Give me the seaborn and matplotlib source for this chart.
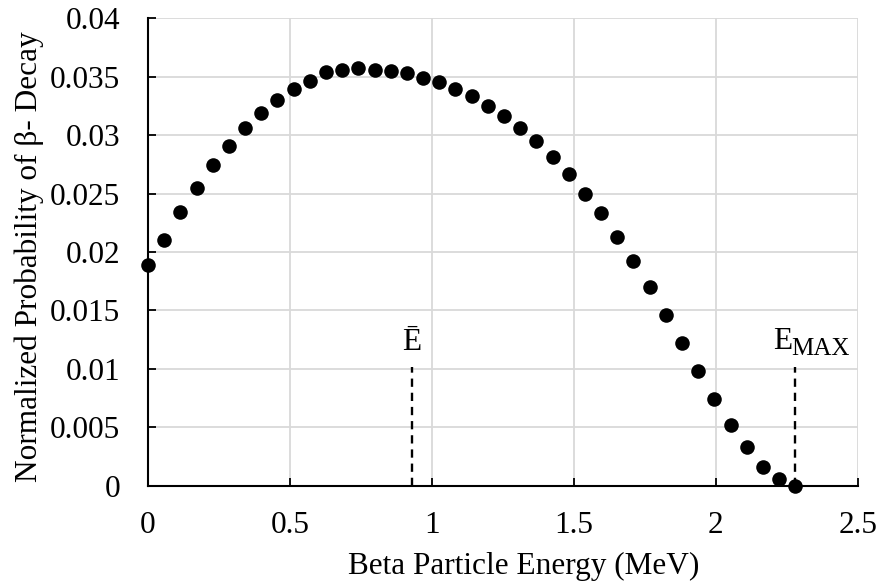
import numpy as np
import pandas as pd
import matplotlib
matplotlib.use("Agg")
import matplotlib.pyplot as plt
import seaborn as sns

# Data
step = 0.057
n_points = 41
energy = [round(i * step, 3) for i in range(n_points)]
probability = [0.0189, 0.0210, 0.0234, 0.0255, 0.0274, 0.0291, 0.0306, 0.0319,
               0.0330, 0.0339, 0.0346, 0.0354, 0.0356, 0.0357, 0.0356, 0.0355,
               0.0353, 0.0349, 0.0345, 0.0339, 0.0333, 0.0325, 0.0316, 0.0306,
               0.0295, 0.0281, 0.0267, 0.0250, 0.0233, 0.0213, 0.0192, 0.0170,
               0.0146, 0.0122, 0.0098, 0.0074, 0.0052, 0.0033, 0.0016, 0.0006,
               0.0000]
E_mean = 0.93
E_max = 2.28
marker_line_top = 0.0102
x_ticks = [0, 0.5, 1, 1.5, 2, 2.5]
y_ticks = [0, 0.005, 0.01, 0.015, 0.02, 0.025, 0.03, 0.035, 0.04]
x_labels = ["0", "0.5", "1", "1.5", "2", "2.5"]
y_labels = ["0", "0.005", "0.01", "0.015", "0.02", "0.025", "0.03", "0.035", "0.04"]

df = pd.DataFrame({"energy": energy, "probability": probability})

sns.set_theme(style="whitegrid")
plt.rcParams["font.family"] = ["Liberation Serif", "DejaVu Serif"]
plt.rcParams["text.color"] = "black"
plt.rcParams["axes.labelcolor"] = "black"

FS = 22.5

fig = plt.figure(figsize=(8.77, 5.82), dpi=100)
ax = fig.add_axes([0.1688, 0.165, 0.978 - 0.1688, 0.969 - 0.165])

sns.scatterplot(data=df, x="energy", y="probability", ax=ax, color="black",
                s=110, edgecolor="black", linewidth=0, zorder=3, clip_on=False)

ax.vlines([E_mean, E_max], 0, marker_line_top, colors="black",
          linestyles=(0, (3.5, 2.5)), linewidth=1.7, zorder=2)

# Labels for the dashed markers
ax.text(E_mean, 0.0116, "Ē", ha="center", va="baseline", fontsize=FS, color="black")
ax.text(E_max - 0.079, 0.0117, "E", ha="left", va="baseline", fontsize=FS, color="black")
ax.text(E_max - 0.013, 0.0112, "MAX", ha="left", va="baseline", fontsize=18, color="black")

ax.set_xlim(0, 2.5)
ax.set_ylim(0, 0.04)
ax.set_xticks(x_ticks)
ax.set_xticklabels(x_labels)
ax.set_yticks(y_ticks)
ax.set_yticklabels(y_labels)
ax.set_xlabel("Beta Particle Energy (MeV)", fontsize=FS, color="black")
ax.set_ylabel("Normalized Probability of β- Decay", fontsize=FS, color="black")
ax.xaxis.label.set_va("baseline")
ax.xaxis.set_label_coords(0.529, -0.189)
ax.yaxis.set_label_coords(-0.147, 0.49)

ax.grid(True, color="#d9d9d9", linewidth=1.3)
ax.set_axisbelow(True)
for side in ["top", "right"]:
    ax.spines[side].set_visible(False)
for side in ["left", "bottom"]:
    ax.spines[side].set_visible(True)
    ax.spines[side].set_color("black")
    ax.spines[side].set_linewidth(1.5)
ax.tick_params(axis="both", direction="in", length=6, width=1.3, color="black",
               labelsize=FS, labelcolor="black", bottom=True, left=True)
ax.tick_params(axis="x", pad=18)
ax.tick_params(axis="y", pad=20)
ax.set_facecolor("white")
fig.patch.set_facecolor("white")

fig.savefig("out.png", dpi=100, facecolor="white")
